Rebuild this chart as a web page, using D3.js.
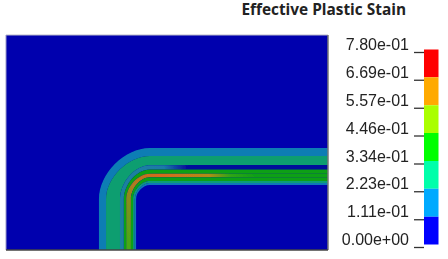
<!DOCTYPE html>
<html>
<head>
<meta charset="utf-8">
<script src="https://cdn.jsdelivr.net/npm/d3@7"></script>
<style>
html, body { margin:0; padding:0; background:#fff; }
svg { display:block; }
</style>
</head>
<body>
<div id="chart-area"></div>
<script>
// legend
const tickValues = [0.78, 0.669, 0.557, 0.446, 0.334, 0.223, 0.111, 0];
const tickLabels = ["7.80e-01","6.69e-01","5.57e-01","4.46e-01","3.34e-01","2.23e-01","1.11e-01","0.00e+00"];
const legendColors = ["#ff0000","#ffaa00","#aaff00","#00ff00","#00ffaa","#00aaff","#0000ff"];

// strain bands of the bent strip, outer edge to inner edge (mm)
const legEdgeX = [43.3, 46.6, 53.1, 54.9, 56.0, 58.2, 59.2, 60.0, 60.6];
const legEdgeY = [47.4, 43.7, 39.4, 37.4, 35.5, 33.8, 32.1, 31.2, 30.2];
const bandColors = ["#0b7db4","#0f9e70","url(#gapGrad)","#08a018","url(#hotGrad)","#08a018","#0d9c7a","#0a78b8"];

const hotStops = [[0,"#48a818"],[0.22,"#b07a20"],[0.42,"#d8681c"],[0.72,"#b08c18"],[0.85,"#30a414"],[1,"#10a016"]];
const gapStops = [[0,"#1a80a0"],[0.55,"#1a78a8"],[1,"#04089a"]];

const margin = {left:6, right:120, top:35, bottom:9};
const width = 448 - margin.left - margin.right;
const height = 259 - margin.top - margin.bottom;

const x = d3.scaleLinear().domain([0,150]).range([margin.left, margin.left + width]);
const y = d3.scaleLinear().domain([0,100]).range([margin.top + height, margin.top]);

const svg = d3.select("#chart-area").append("svg")
    .attr("width", 448)
    .attr("height", 259);

const defs = svg.append("defs");
defs.append("clipPath").attr("id","plotClip").append("rect")
    .attr("x", margin.left).attr("y", margin.top).attr("width", width).attr("height", height);
defs.append("filter").attr("id","soft").attr("x","-5%").attr("y","-5%").attr("width","110%").attr("height","110%")
    .append("feGaussianBlur").attr("stdDeviation", 0.75);
defs.append("filter").attr("id","softText").append("feGaussianBlur").attr("stdDeviation", 0.3);

function gradient(id, stops, x1, y1, x2, y2) {
    const g = defs.append("linearGradient").attr("id", id)
        .attr("gradientUnits","userSpaceOnUse")
        .attr("x1", x(x1)).attr("y1", y(y1)).attr("x2", x(x2)).attr("y2", y(y2));
    g.selectAll("stop").data(stops).enter().append("stop")
        .attr("offset", d => d[0]).attr("stop-color", d => d[1]);
}
gradient("hotGrad", hotStops, 56, 5, 115, 36);
gradient("gapGrad", gapStops, 60, 36, 85, 36);

// field background
svg.append("rect")
    .attr("x", margin.left).attr("y", margin.top).attr("width", width).attr("height", height)
    .attr("fill", "#0000ae");

// bend centre, the bands turn around it
const bendX = 67, bendY = 23.5;
const k = 0.5;

function edgeForward(p, ex, ey) {
    p.moveTo(x(ex), y(0));
    p.lineTo(x(ex), y(bendY));
    p.bezierCurveTo(x(ex), y(bendY + (ey - bendY) * k), x(bendX - (bendX - ex) * k), y(ey), x(bendX), y(ey));
    p.lineTo(x(150), y(ey));
}
function edgeBack(p, ex, ey) {
    p.lineTo(x(150), y(ey));
    p.lineTo(x(bendX), y(ey));
    p.bezierCurveTo(x(bendX - (bendX - ex) * k), y(ey), x(ex), y(bendY + (ey - bendY) * k), x(ex), y(bendY));
    p.lineTo(x(ex), y(0));
    p.closePath();
}
function bandPath(i) {
    const p = d3.path();
    edgeForward(p, legEdgeX[i], legEdgeY[i]);
    edgeBack(p, legEdgeX[i+1], legEdgeY[i+1]);
    return p.toString();
}

svg.append("g")
    .attr("clip-path","url(#plotClip)")
  .append("g")
    .attr("filter","url(#soft)")
    .selectAll("path").data(bandColors).enter().append("path")
    .attr("d", (d,i) => bandPath(i))
    .attr("fill", d => d);

// plot frame
svg.append("line").attr("x1",margin.left).attr("x2",margin.left+width).attr("y1",margin.top).attr("y2",margin.top)
    .attr("stroke","#b9b9c9").attr("stroke-width",1);
svg.append("line").attr("x1",margin.left).attr("x2",margin.left).attr("y1",margin.top).attr("y2",margin.top+height)
    .attr("stroke","#9a9ac8").attr("stroke-width",1);
svg.append("line").attr("x1",margin.left+width).attr("x2",margin.left+width).attr("y1",margin.top).attr("y2",margin.top+height)
    .attr("stroke","#777").attr("stroke-width",1.5);
svg.append("line").attr("x1",margin.left).attr("x2",margin.left+width).attr("y1",margin.top+height).attr("y2",margin.top+height)
    .attr("stroke","#444").attr("stroke-width",1.5);

// legend
const legendY = d3.scaleLinear().domain([0,0.78]).range([247,52]);
const barX = 424, barW = 14.5, barShift = -2.5;

svg.append("g").selectAll("rect").data(legendColors).enter().append("rect")
    .attr("x", barX)
    .attr("y", (d,i) => legendY(tickValues[i]) + barShift)
    .attr("width", barW)
    .attr("height", (d,i) => legendY(tickValues[i+1]) - legendY(tickValues[i]))
    .attr("fill", d => d);

const legendAxis = d3.axisLeft(legendY)
    .tickValues(tickValues)
    .tickFormat(d => tickLabels[tickValues.indexOf(d)])
    .tickSize(10)
    .tickPadding(5);

const axisG = svg.append("g")
    .attr("transform","translate(" + barX + ",0)")
    .call(legendAxis);
axisG.select(".domain").remove();
axisG.selectAll(".tick line").attr("stroke","#333").attr("stroke-width",1.3);
axisG.selectAll(".tick text")
    .attr("dy","-0.15em")
    .attr("fill","#222")
    .attr("font-family","'Liberation Sans', Arial, sans-serif")
    .attr("font-size","16px")
    .attr("filter","url(#softText)");

svg.append("text")
    .attr("x", 406)
    .attr("y", 15)
    .attr("text-anchor","end")
    .attr("fill","#222")
    .attr("font-family","'Open Sans', sans-serif")
    .attr("font-weight","700")
    .attr("font-size","15.4px")
    .text("Effective Plastic Stain");
</script>
</body>
</html>
